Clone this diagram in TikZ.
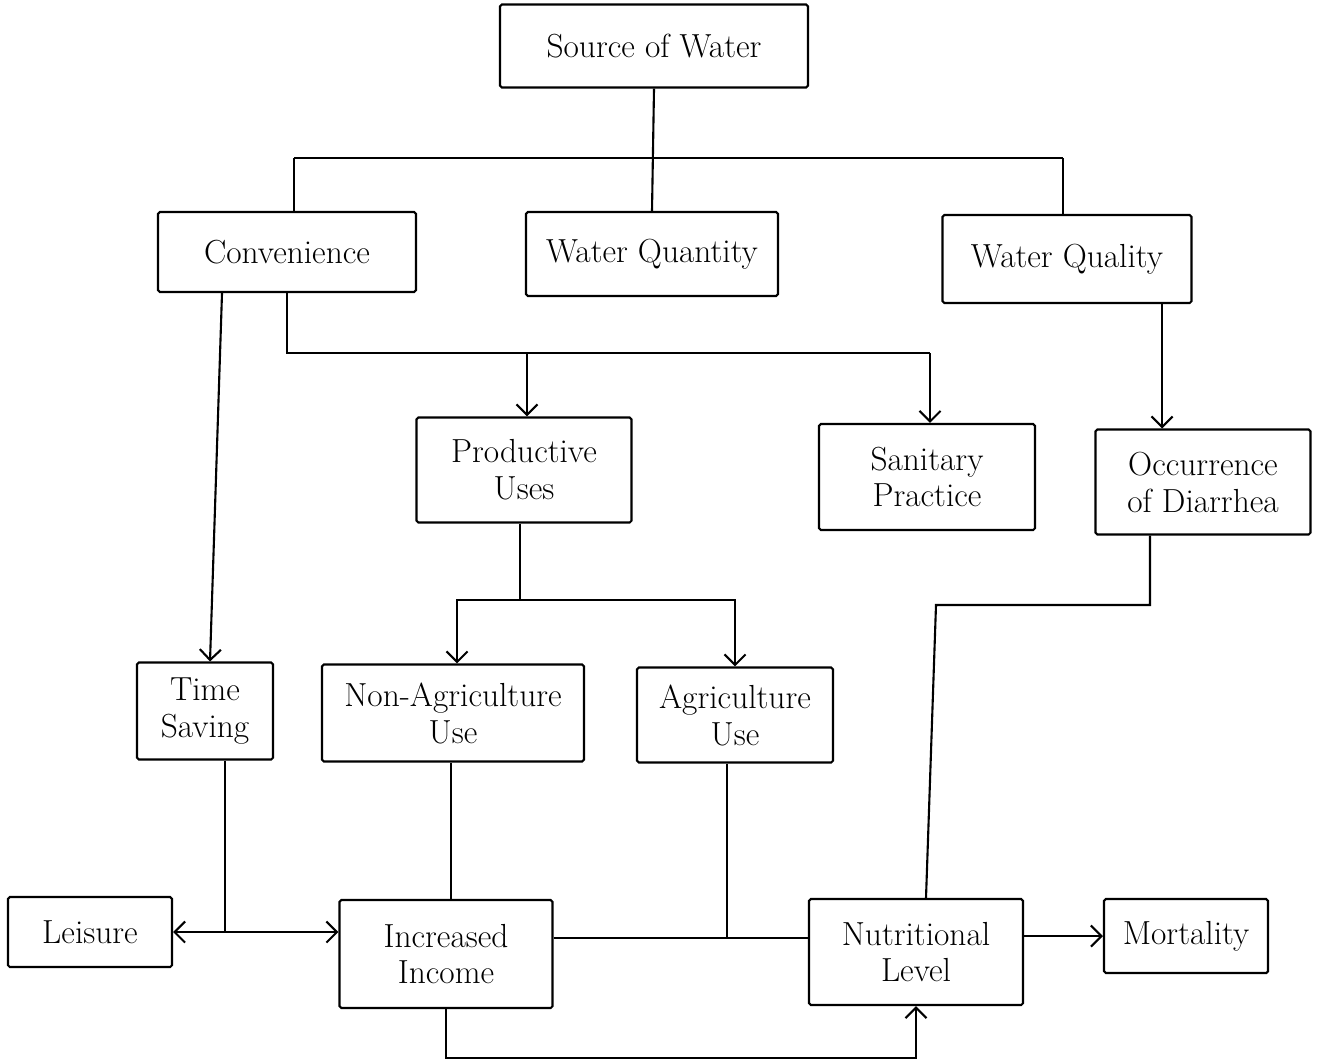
\documentclass[tikz,border=0pt]{standalone}
\usepackage{tikz}
\usetikzlibrary{arrows.meta,calc}

\begin{document}
\begin{tikzpicture}[->,>={Straight Barb[length=6pt,width=12pt]},x=0.02cm,y=-0.02cm,
                    line width=1.2pt]
  \tikzstyle{every node}=[draw,rounded corners=1pt,align=center,inner sep=2pt,
                          font=\fontsize{19}{21}\selectfont]
  \useasboundingbox (0,0) rectangle (1317,1063);

  \node[minimum width=6.16cm,minimum height=1.66cm] (0) at (654,46) {Source of Water};
  \node[minimum width=5.16cm,minimum height=1.6cm] (1) at (287,252) {Convenience};
  \node[minimum width=5.04cm,minimum height=1.68cm] (2) at (652,254) {Water Quantity};
  \node[minimum width=4.98cm,minimum height=1.76cm] (3) at (1067,259) {Water Quality};
  \node[minimum width=4.3cm,minimum height=2.1cm] (4) at (524,470) {Productive\\Uses};
  \node[minimum width=4.32cm,minimum height=2.12cm] (5) at (927,477) {Sanitary\\Practice};
  \node[minimum width=4.3cm,minimum height=2.1cm] (6) at (1203,482) {Occurrence\\of Diarrhea};
  \node[minimum width=2.72cm,minimum height=1.94cm] (7) at (205,711) {Time\\Saving};
  \node[minimum width=5.24cm,minimum height=1.94cm] (8) at (453,713) {Non-Agriculture\\Use};
  \node[minimum width=3.92cm,minimum height=1.9cm] (9) at (735,715) {Agriculture\\Use};
  \node[minimum width=3.28cm,minimum height=1.4cm] (10) at (90,932) {Leisure};
  \node[minimum width=4.26cm,minimum height=2.16cm] (11) at (446,954) {Increased\\Income};
  \node[minimum width=4.28cm,minimum height=2.12cm] (12) at (916,952) {Nutritional\\Level};
  \node[minimum width=3.28cm,minimum height=1.48cm] (13) at (1186,936) {Mortality};

  \coordinate (bar) at (0,158);
  \coordinate (split) at (0,353);
  \coordinate (split2) at (0,600);
  \coordinate (split3) at (0,605);
  \coordinate (mid) at (0,938);
  \coordinate (low) at (0,1058);

  \path[-] (0.south) edge (2.north)
           ([xshift=0.14cm]1.north) edge ([xshift=0.14cm]1.north |- bar)
           ([xshift=0.14cm]1.north |- bar) edge ([xshift=-0.08cm]3.north |- bar)
           ([xshift=-0.08cm]3.north |- bar) edge ([xshift=-0.08cm]3.north);

  \draw ([xshift=-1.3cm]1.south) -- ([xshift=0.1cm]7.north);
  \draw[-] (1.south) -- (1.south |- split) -- ([xshift=0.06cm]5.north |- split);
  \draw ([xshift=0.06cm]4.north |- split) -- ([xshift=0.06cm]4.north);
  \draw ([xshift=0.06cm]5.north |- split) -- ([xshift=0.06cm]5.north);
  \draw ([xshift=-0.82cm]6.north |- 3.south) -- ([xshift=-0.82cm]6.north);

  \draw[-] ([xshift=-0.08cm]4.south) -- ([xshift=-0.08cm]4.south |- split2);
  \draw ([xshift=-0.08cm]4.south |- split2) -| ([xshift=0.08cm]8.north);
  \draw ([xshift=-0.08cm]4.south |- split2) -| (9.north);

  \draw[-] ([xshift=-1.06cm]6.south) -- ([xshift=-1.06cm]6.south |- split3)
           -- ([xshift=0.4cm]12.north |- split3) -- ([xshift=0.2cm]12.north);

  \draw[<->] (10.east) -- (10.east -| 11.west);
  \draw[-] ([xshift=0.4cm]7.south) -- ([xshift=0.4cm]7.south |- 10.east);
  \draw[-] ([xshift=-0.04cm]8.south) -- ([xshift=-0.04cm]8.south |- 11.north);

  \draw[-] (11.east |- mid) -- (12.west |- mid);
  \draw[-] ([xshift=-0.16cm]9.south) -- ([xshift=-0.16cm]9.south |- mid);
  \draw (12.east |- 13.west) -- (13.west);
  \draw (11.south) |- (low -| 12.south) -- (12.south);
\end{tikzpicture}
\end{document}
